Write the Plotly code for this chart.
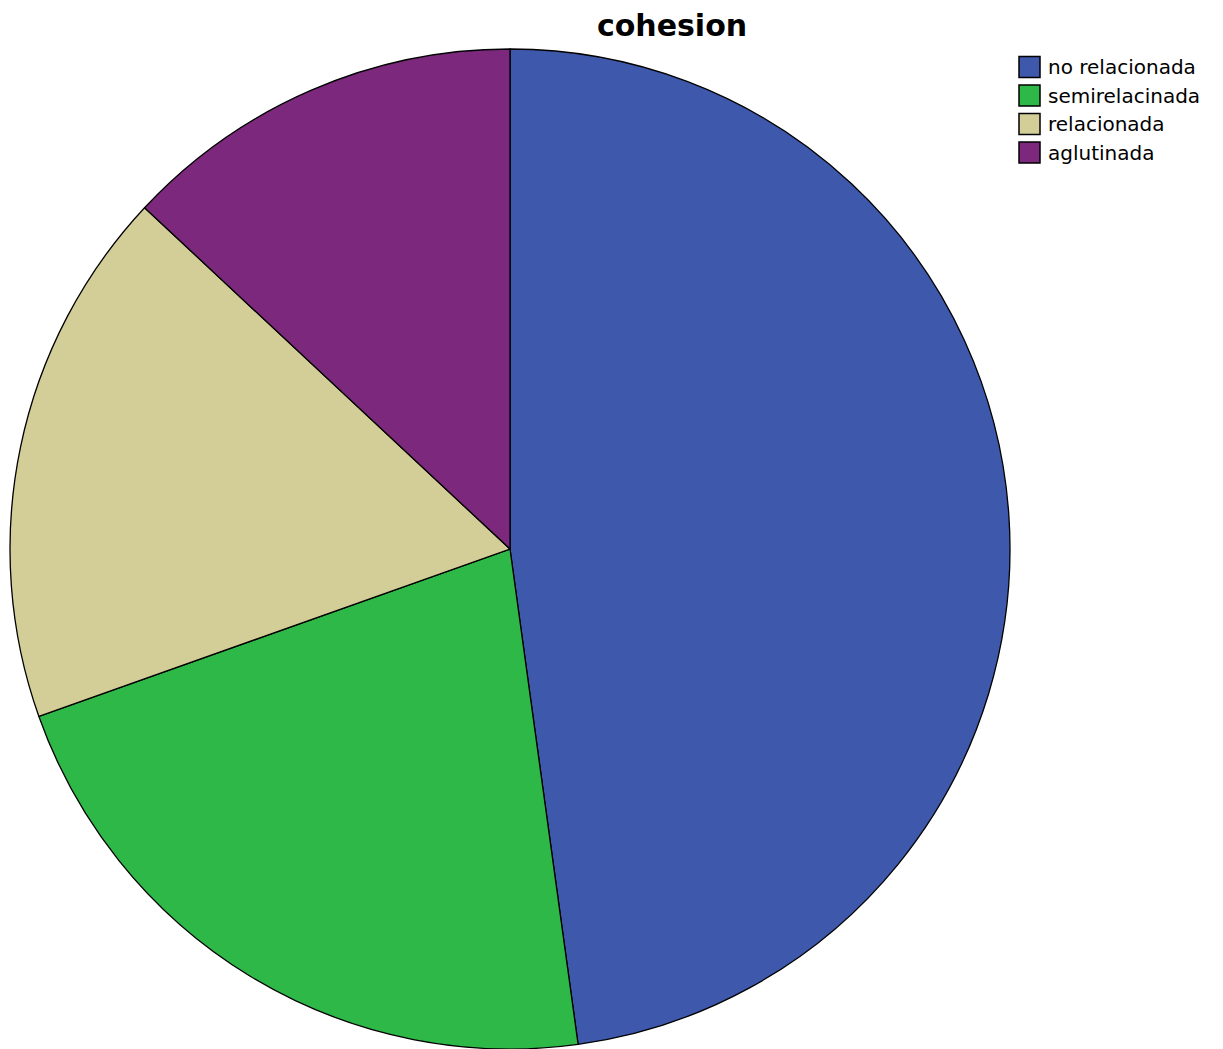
import plotly.graph_objects as go

# Cohesion categories and their case counts
categories = ["no relacionada", "semirelacinada", "relacionada", "aglutinada"]
counts = [11, 5, 4, 3]
colors = ["#3E58AC", "#2EB848", "#D3CE97", "#7C287D"]

W, H = 1223, 1049
cx, cy, r = 510, 549, 500  # pie centre and radius in pixels

fig = go.Figure(
    go.Pie(
        labels=categories,
        values=counts,
        sort=False,
        direction="clockwise",
        rotation=0,
        textinfo="none",
        hoverinfo="label+value+percent",
        marker=dict(colors=colors, line=dict(color="black", width=1.3)),
        domain=dict(x=[(cx - r) / W, (cx + r) / W],
                    y=[max(0, (H - cy - r) / H), min(1, (H - cy + r) / H)]),
        showlegend=False,
    )
)

# Legend: colour boxes with labels, top right
shapes, annotations = [], []
row0, step, box = 67, 28.5, 21
x_box = 1019
for i, (lab, col) in enumerate(zip(categories, colors)):
    yc = row0 + i * step
    shapes.append(dict(
        type="rect", xref="paper", yref="paper",
        x0=x_box / W, x1=(x_box + box) / W,
        y0=1 - (yc + box / 2) / H, y1=1 - (yc - box / 2) / H,
        fillcolor=col, line=dict(color="black", width=1.5),
    ))
    annotations.append(dict(
        xref="paper", yref="paper", x=(x_box + box + 6) / W, y=1 - yc / H,
        xanchor="left", yanchor="middle", text=lab, showarrow=False,
        font=dict(family="DejaVu Sans", size=20, color="black"),
    ))

fig.update_layout(
    width=W, height=H,
    margin=dict(l=0, r=0, t=0, b=0),
    paper_bgcolor="white", plot_bgcolor="white",
    title=dict(text="<b>cohesion</b>", x=672 / W, xanchor="center",
               y=1 - 25 / H, yanchor="middle", yref="container",
               font=dict(family="DejaVu Sans", size=30, color="black")),
    shapes=shapes, annotations=annotations,
)

fig.write_html("out.html")
